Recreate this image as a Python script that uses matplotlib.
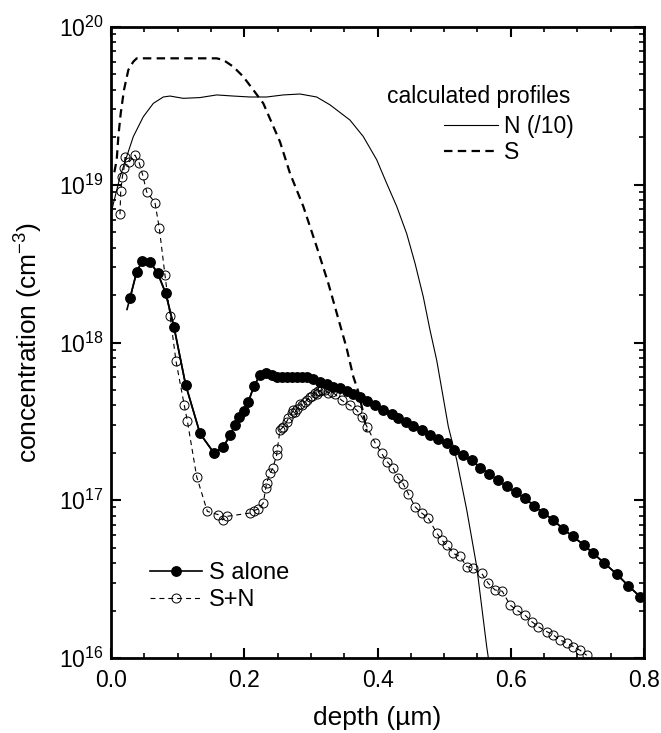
import matplotlib
matplotlib.use("Agg")
import matplotlib.pyplot as plt
from matplotlib.ticker import LogLocator, MultipleLocator, FormatStrFormatter, NullFormatter

plt.rcParams['font.family'] = ['Liberation Sans', 'DejaVu Sans']
plt.rcParams['mathtext.fontset'] = 'custom'
plt.rcParams['mathtext.rm'] = 'Liberation Sans'
plt.rcParams['mathtext.it'] = 'Liberation Sans:italic'
plt.rcParams['mathtext.bf'] = 'Liberation Sans:bold'

# ---- measured profile: S implanted alone (depth in um, concentration in cm^-3)
s_alone_depth = [0.0285, 0.0386, 0.047, 0.0585, 0.0701, 0.0821, 0.0946, 0.112,
                 0.1336, 0.1546, 0.1686, 0.1786, 0.1861, 0.1926, 0.1996, 0.2061,
                 0.2146, 0.2236, 0.2326, 0.2412, 0.2487, 0.256, 0.2637, 0.2712,
                 0.2787, 0.286, 0.2937, 0.3036, 0.3137, 0.3238, 0.3337, 0.3437,
                 0.3538, 0.3637, 0.3737, 0.3838, 0.3962, 0.4087, 0.4213, 0.4312,
                 0.4428, 0.4537, 0.4663, 0.4788, 0.4913, 0.5039, 0.5153, 0.5279,
                 0.5414, 0.5539, 0.5674, 0.5804, 0.5939, 0.6074, 0.6214, 0.6353,
                 0.6489, 0.6639, 0.678, 0.693, 0.71, 0.7239, 0.7404, 0.759,
                 0.7765, 0.794]
s_alone_conc = [1.91e18, 2.81e18, 3.29e18, 3.25e18, 2.75e18, 2.05e18, 1.25e18, 5.4e17,
                2.65e17, 1.99e17, 2.18e17, 2.58e17, 3.0e17, 3.38e17, 3.7e17, 4.2e17,
                5.3e17, 6.2e17, 6.44e17, 6.22e17, 6.07e17, 6.01e17, 6.04e17, 6.07e17,
                6.08e17, 6.08e17, 6.01e17, 5.85e17, 5.64e17, 5.46e17, 5.25e17, 5.13e17,
                4.95e17, 4.72e17, 4.5e17, 4.28e17, 4.02e17, 3.73e17, 3.51e17, 3.31e17,
                3.15e17, 2.96e17, 2.79e17, 2.59e17, 2.43e17, 2.30e17, 2.08e17, 1.94e17,
                1.80e17, 1.61e17, 1.47e17, 1.34e17, 1.23e17, 1.12e17, 1.03e17, 9.2e16,
                8.3e16, 7.5e16, 6.6e16, 5.9e16, 5.2e16, 4.6e16, 4.0e16, 3.4e16,
                2.87e16, 2.45e16]
# the guide line through the S-alone points starts a little shallower
s_alone_line_start = (0.024, 1.62e18)

# ---- measured profile: S co-implanted with N
sn_depth = [0.0135, 0.0146, 0.017, 0.0195, 0.021, 0.0275, 0.036, 0.0425, 0.0476,
            0.0536, 0.066, 0.0725, 0.081, 0.0886, 0.0976, 0.110, 0.1146, 0.1286,
            0.1446, 0.161, 0.1676, 0.1736, 0.2086, 0.2146, 0.221, 0.2286, 0.2322,
            0.2337, 0.2386, 0.2427, 0.2487, 0.2496, 0.2537, 0.2562, 0.2586, 0.2637,
            0.2662, 0.2712, 0.2737, 0.2762, 0.2787, 0.2837, 0.2862, 0.2912, 0.2937,
            0.2987, 0.3012, 0.3062, 0.3087, 0.3112, 0.3137, 0.3162, 0.3212, 0.3262,
            0.3312, 0.3362, 0.3462, 0.3587, 0.3687, 0.3762, 0.3847, 0.3962, 0.4062,
            0.4147, 0.4237, 0.4312, 0.4387, 0.4462, 0.4563, 0.4663, 0.4763, 0.4888,
            0.4963, 0.5039, 0.5138, 0.5238, 0.5339, 0.5438, 0.5564, 0.5663, 0.5764,
            0.5873, 0.5989, 0.6089, 0.6214, 0.6315, 0.6414, 0.654, 0.6639, 0.6739,
            0.684, 0.6939, 0.704, 0.714]
sn_conc = [6.5e18, 9.1e18, 1.12e19, 1.27e19, 1.49e19, 1.40e19, 1.54e19, 1.37e19, 1.15e19,
           9.0e18, 7.7e18, 5.3e18, 2.68e18, 1.48e18, 7.6e17, 4.0e17, 3.18e17, 1.41e17,
           8.5e16, 8.1e16, 7.5e16, 7.9e16, 8.3e16, 8.6e16, 8.8e16, 9.6e16, 1.19e17,
           1.29e17, 1.48e17, 1.59e17, 1.94e17, 2.1e17, 2.79e17, 2.85e17, 2.93e17, 3.15e17,
           3.3e17, 3.56e17, 3.73e17, 3.6e17, 3.78e17, 4.1e17, 4.0e17, 4.2e17, 4.3e17,
           4.5e17, 4.55e17, 4.8e17, 4.7e17, 4.9e17, 4.9e17, 5.0e17, 5.0e17, 4.8e17,
           4.85e17, 4.7e17, 4.3e17, 4.0e17, 3.73e17, 3.39e17, 2.9e17, 2.32e17, 1.98e17,
           1.75e17, 1.59e17, 1.38e17, 1.27e17, 1.10e17, 9.1e16, 8.3e16, 7.7e16, 6.2e16,
           5.6e16, 5.2e16, 4.6e16, 4.4e16, 3.8e16, 3.7e16, 3.44e16, 2.97e16, 2.7e16,
           2.65e16, 2.17e16, 2.01e16, 1.87e16, 1.70e16, 1.58e16, 1.47e16, 1.40e16, 1.30e16,
           1.25e16, 1.18e16, 1.12e16, 1.04e16]

# ---- calculated N profile (divided by 10)
n_calc_depth = [0.0, 0.0135, 0.0236, 0.0335, 0.0485, 0.0635, 0.0785, 0.0886, 0.1085,
                0.1336, 0.1586, 0.1836, 0.2086, 0.2337, 0.2586, 0.2837, 0.3087, 0.3287,
                0.3587, 0.3787, 0.3988, 0.4138, 0.4288, 0.4438, 0.4563, 0.4687, 0.4788,
                0.4889, 0.5063, 0.5189, 0.5339, 0.5489, 0.5639, 0.568]
n_calc_conc = [6.6e18, 1.12e19, 1.51e19, 2.02e19, 2.70e19, 3.28e19, 3.6e19, 3.65e19, 3.53e19,
               3.57e19, 3.71e19, 3.65e19, 3.6e19, 3.6e19, 3.71e19, 3.76e19, 3.6e19, 3.21e19,
               2.57e19, 2.02e19, 1.44e19, 1.02e19, 7.3e18, 4.9e18, 3.18e18, 1.95e18, 1.20e18,
               7.7e17, 2.93e17, 1.80e17, 8.7e16, 3.8e16, 1.18e16, 9.0e15]

# ---- calculated S profile
s_calc_depth = [0.005, 0.0086, 0.011, 0.0146, 0.0195, 0.026, 0.0335, 0.0386, 0.1586,
                0.1686, 0.1836, 0.1986, 0.2136, 0.2286, 0.2537, 0.2687, 0.2886, 0.3087,
                0.3262, 0.3537, 0.3637, 0.3712, 0.3787, 0.3838]
s_calc_conc = [1.2e19, 1.44e19, 2.02e19, 2.84e19, 3.99e19, 5.34e19, 6.03e19, 6.33e19, 6.33e19,
               6.18e19, 5.6e19, 4.84e19, 3.99e19, 3.28e19, 1.87e19, 1.18e19, 7.3e18, 4.05e18,
               2.37e18, 9.2e17, 6.07e17, 4.88e17, 3.56e17, 2.72e17]

FS = 16.5       # tick labels and legends
FS_LABEL = 19   # axis titles

fig = plt.figure(figsize=(6.61, 7.33), dpi=100)
ax = fig.add_axes([111 / 661, 1 - 658 / 733, (644 - 111) / 661, (658 - 27) / 733])

n_line, = ax.plot(n_calc_depth, n_calc_conc, color='black', lw=0.8, label='N (/10)')
s_line, = ax.plot(s_calc_depth, s_calc_conc, color='black', lw=1.6,
                  dashes=(3.8, 2.4), label='S')

sn_line, = ax.plot(sn_depth, sn_conc, color='black', lw=0.8, dashes=(4.5, 3.5),
                   marker='o', ms=6.5, mfc='none', mec='black', mew=0.7, label='S+N')

ax.plot([s_alone_line_start[0]] + s_alone_depth, [s_alone_line_start[1]] + s_alone_conc,
        color='black', lw=1.2)
sa_pts, = ax.plot(s_alone_depth, s_alone_conc, color='black', lw=1.2, marker='o',
                  ms=6.8, mfc='black', mec='black', label='S alone')

ax.set_yscale('log')
ax.set_xlim(0, 0.8)
ax.set_ylim(1e16, 1e20)

ax.xaxis.set_major_locator(MultipleLocator(0.2))
ax.xaxis.set_minor_locator(MultipleLocator(0.05))
ax.xaxis.set_major_formatter(FormatStrFormatter('%.1f'))
ax.yaxis.set_major_locator(LogLocator(base=10, numticks=10))
ax.yaxis.set_minor_locator(LogLocator(base=10, subs=range(2, 10), numticks=20))
ax.yaxis.set_minor_formatter(NullFormatter())

ax.tick_params(which='both', direction='in', top=True, right=True, labelsize=FS)
ax.tick_params(which='major', length=7, width=1.5)
ax.tick_params(which='minor', length=3.5, width=1.2)
ax.tick_params(axis='x', which='major', pad=8)
ax.tick_params(axis='y', which='major', pad=5)

for sp in ax.spines.values():
    sp.set_linewidth(2.0)

ax.set_xlabel('depth (\u00b5m)', fontsize=FS_LABEL, labelpad=10)
ax.set_ylabel('concentration (cm$^{-3}$)', fontsize=FS_LABEL, labelpad=10)

# calculated-profile key: heading plus two line samples
ax.text((570 - 111) / 533, (658 - 97) / 631, 'calculated profiles', transform=ax.transAxes,
        ha='right', va='center', fontsize=FS)
leg1 = ax.legend(handles=[n_line, s_line], loc='upper right',
                 bbox_to_anchor=((574 - 111) / 533, (658 - 115) / 631), frameon=False,
                 fontsize=FS, handlelength=2.35, handletextpad=0.28,
                 labelspacing=0.14, borderpad=0, borderaxespad=0)
ax.add_artist(leg1)

ax.legend(handles=[sa_pts, sn_line], loc='upper left',
          bbox_to_anchor=((150 - 111) / 533, (658 - 562) / 631), frameon=False,
          fontsize=17, handlelength=2.2, handletextpad=0.3, labelspacing=0.22,
          numpoints=1, borderpad=0, borderaxespad=0)

fig.savefig('out.png', dpi=100)
